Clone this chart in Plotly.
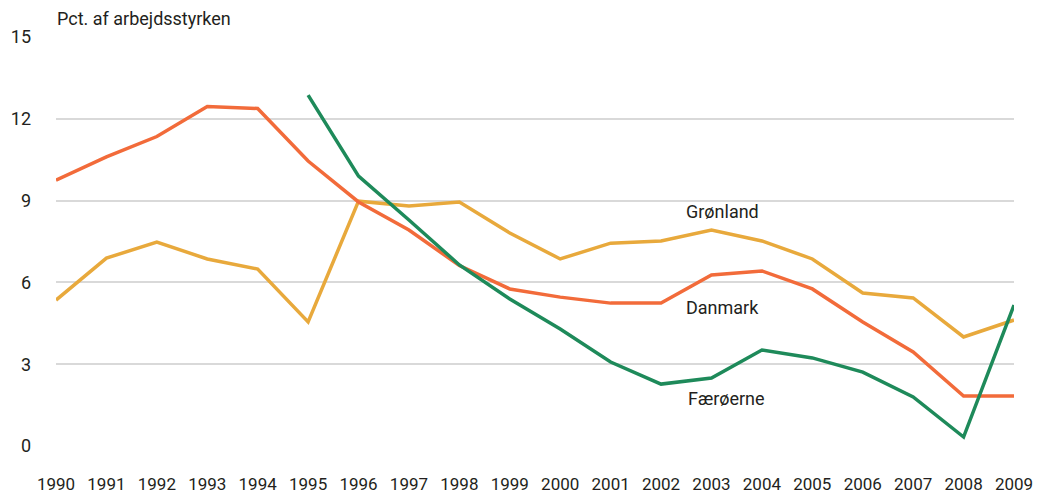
import plotly.graph_objects as go

years = list(range(1990, 2010))
danmark = [9.75, 10.6, 11.35, 12.45, 12.38, 10.45, 8.95, 7.92, 6.62, 5.76, 5.46, 5.24, 5.24, 6.27, 6.42, 5.76, 4.55, 3.45, 1.83, 1.83]
groenland = [5.35, 6.89, 7.48, 6.86, 6.49, 4.55, 8.98, 8.8, 8.95, 7.81, 6.86, 7.44, 7.52, 7.92, 7.52, 6.86, 5.61, 5.43, 4.0, 4.62]
faeroe_years = list(range(1995, 2010))
faeroerne = [12.87, 9.9, 8.29, 6.64, 5.39, 4.29, 3.08, 2.27, 2.49, 3.52, 3.23, 2.71, 1.8, 0.33, 5.17]
yticks = [0, 3, 6, 9, 12, 15]

FONT = "Roboto, Liberation Sans, sans-serif"
TXT = "#231F20"

fig = go.Figure()
fig.add_trace(go.Scatter(x=years, y=groenland, mode="lines", name="Grønland",
                         line=dict(color="#E8A93C", width=3.5), cliponaxis=False))
fig.add_trace(go.Scatter(x=years, y=danmark, mode="lines", name="Danmark",
                         line=dict(color="#F26B3A", width=3.5), cliponaxis=False))
fig.add_trace(go.Scatter(x=faeroe_years, y=faeroerne, mode="lines", name="Færøerne",
                         line=dict(color="#1E8A5A", width=3.5), cliponaxis=False))

for text, x, y in [("Grønland", 2003.22, 8.6), ("Danmark", 2003.22, 5.07), ("Færøerne", 2003.3, 1.76)]:
    fig.add_annotation(x=x, y=y, text=text, showarrow=False,
                       font=dict(family=FONT, size=18, color=TXT))

fig.add_annotation(xref="paper", yref="paper", x=0, y=1, yshift=7, xanchor="left", yanchor="bottom",
                   text="Pct. af arbejdsstyrken", showarrow=False, borderpad=0,
                   font=dict(family=FONT, size=18, color=TXT))

# page body has an 8px default margin; figure sized so it fits the 1051x494 window
fig.update_layout(
    width=1043, height=486,
    margin=dict(l=48, r=37, t=29, b=48),
    plot_bgcolor="white", paper_bgcolor="white",
    showlegend=False,
    font=dict(family=FONT, size=17, color=TXT),
    xaxis=dict(range=[1990, 2009], tickvals=years, ticktext=[str(y) for y in years],
               showgrid=False, zeroline=False, showline=False, ticks="", automargin=False,
               ticklabelstandoff=26, tickfont=dict(family=FONT, size=17, color=TXT)),
    yaxis=dict(range=[0, 15], tickvals=yticks, showgrid=True, gridcolor="#D9D9D9", gridwidth=1.5,
               zeroline=False, showline=False, ticks="", ticklabelstandoff=24, automargin=False,
               tickfont=dict(family=FONT, size=18, color=TXT)),
)

fig.write_html("out.html")
